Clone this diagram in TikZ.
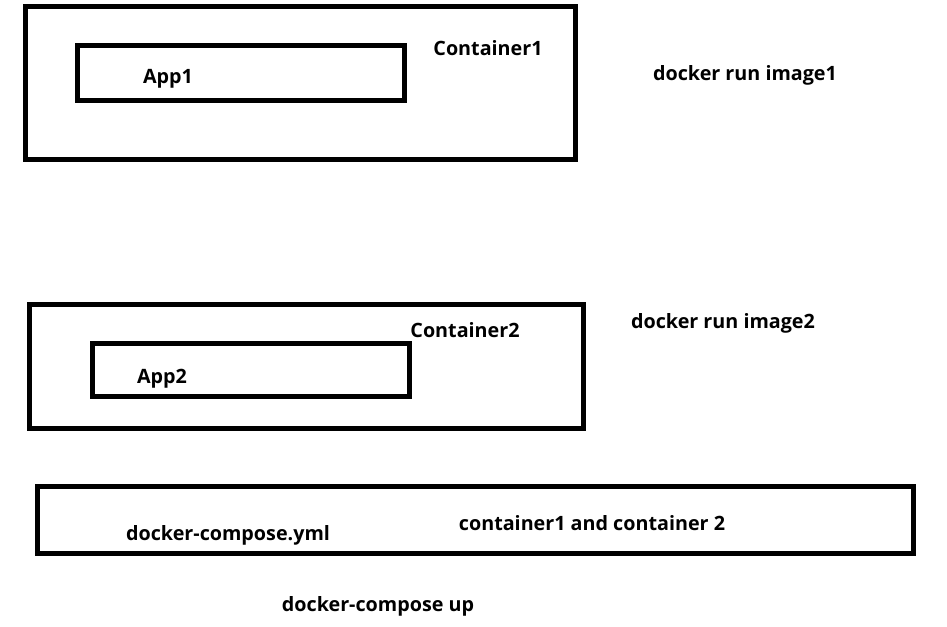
\documentclass[tikz,border=0pt]{standalone}
\usepackage{fontspec}
\setmainfont{Open Sans}
\usepackage{tikz}
\usetikzlibrary{positioning}

\begin{document}
\begin{tikzpicture}[x=0.75pt,y=-0.75pt]
  \def\lw{3.75pt}
  \tikzset{box/.style={draw,line width=\lw}}
  \tikzset{label/.style={font=\bfseries\fontsize{14.8pt}{17pt}\selectfont,anchor=base,inner sep=0pt}}
  \useasboundingbox (0,0) rectangle (947,627);
  % first container
  \draw[box] (25,7) rectangle (575,160);
  \draw[box] (77,46) rectangle (404,101);
  \node[label] (cont1) at (488,56) {Container1};
  \node[label] (app1) at (168,84) {App1};
  \node[label] (run1) at (745,81) {docker run image1};
  % second container
  \draw[box] (29,305) rectangle (583,429);
  \draw[box] (92,344) rectangle (409,397);
  \node[label] (cont2) at (465,338) {Container2};
  \node[label] (app2) at (162,384) {App2};
  \node[label] (run2) at (723,329) {docker run image2};
  % compose
  \draw[box] (37,487) rectangle (913,553);
  \node[label] (yml) at (228,541) {docker-compose.yml};
  \node[label] (both) at (592,531) {container1 and container 2};
  \node[label] (up) at (378,611) {docker-compose up};
\end{tikzpicture}
\end{document}
